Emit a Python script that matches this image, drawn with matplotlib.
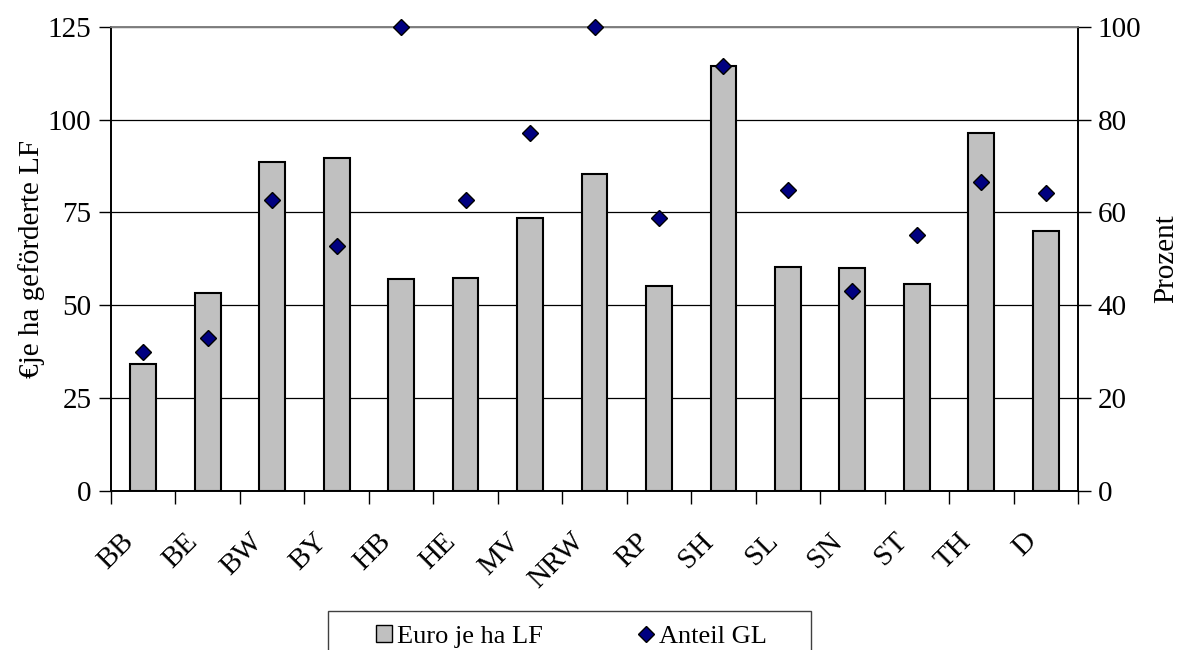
import matplotlib
matplotlib.use("Agg")
import matplotlib.pyplot as plt
from matplotlib.lines import Line2D
from matplotlib.patches import Patch, Rectangle
from matplotlib.transforms import ScaledTranslation
import numpy as np

plt.rcParams['font.family'] = ['Liberation Serif', 'DejaVu Serif']

categories = ["BB", "BE", "BW", "BY", "HB", "HE", "MV", "NRW", "RP", "SH", "SL", "SN", "ST", "TH", "D"]
euro_je_ha = [34.1, 53.3, 88.5, 89.7, 57.1, 57.4, 73.5, 85.2, 55.2, 114.5, 60.2, 59.9, 55.8, 96.4, 70.0]
anteil_gl = [30.0, 33.0, 62.6, 52.8, 100.0, 62.6, 77.0, 100.0, 58.7, 91.5, 64.8, 43.0, 55.1, 66.5, 64.1]

left_ticks = [0, 25, 50, 75, 100, 125]
right_ticks = [0, 20, 40, 60, 80, 100]

FS = 21
LFS = 19

fig = plt.figure(figsize=(11.84, 6.5), dpi=100)
ax = fig.add_axes([111/1184, 1 - 490.7/650, (1078 - 111)/1184, (490.7 - 26.7)/650])
ax2 = ax.twinx()

x = np.arange(len(categories))
ax.bar(x, euro_je_ha, width=0.40, color="#C0C0C0", edgecolor="black", linewidth=1.5, zorder=3)
ax.set_xlim(-0.5, len(categories) - 0.5)
ax.set_ylim(0, 125)
ax.set_yticks(left_ticks)
ax.yaxis.grid(True, color="black", linewidth=0.9, zorder=0)
ax.set_axisbelow(True)

ax2.plot(x, anteil_gl, linestyle="none", marker="D", markersize=8.5,
         markerfacecolor="#000080", markeredgecolor="black", markeredgewidth=1.0,
         clip_on=False, zorder=5)
ax2.set_ylim(0, 100)
ax2.set_yticks(right_ticks)

# category ticks at boundaries
ax.set_xticks(np.arange(len(categories) + 1) - 0.5, minor=False)
ax.set_xticklabels([])
ax.tick_params(axis="x", which="major", direction="out", length=9, width=1, color="black")
ax.set_xticks(x, minor=True)
ax.set_xticklabels(categories, minor=True, rotation=45, ha="right", va="center",
                   rotation_mode="anchor", fontsize=FS)
ax.tick_params(axis="x", which="minor", length=0, pad=28)
shift = ScaledTranslation(-14/100, -8/100, fig.dpi_scale_trans)
for lbl in ax.get_xticklabels(minor=True):
    lbl.set_transform(lbl.get_transform() + shift)

ax.tick_params(axis="y", direction="out", length=9, width=1, labelsize=FS, pad=5)
ax2.tick_params(axis="y", direction="out", length=9, width=1, labelsize=FS, pad=5)

for a in (ax, ax2):
    a.spines["top"].set_color("#808080")
    a.spines["top"].set_linewidth(1.2)
    a.spines["left"].set_linewidth(1.2)
    a.spines["right"].set_linewidth(1.2)
    a.spines["bottom"].set_linewidth(1.2)

ax.set_ylabel("€je ha geförderte LF", fontsize=FS, labelpad=2)
ax2.set_ylabel("Prozent", fontsize=FS, labelpad=9)

# legend frame
fig.patches.append(Rectangle((328/1184, -0.01), (811 - 328)/1184, 1 - 611/650 + 0.01,
                             transform=fig.transFigure, facecolor="white",
                             edgecolor="#404040", linewidth=1.0, zorder=0))

handles = [Patch(facecolor="#C0C0C0", edgecolor="black", linewidth=1.0),
           Line2D([], [], linestyle="none", marker="D", markersize=8,
                  markerfacecolor="#000080", markeredgecolor="black")]
leg = fig.legend(handles, ["Euro je ha LF", "Anteil GL"], ncol=2, loc="upper left",
                 bbox_to_anchor=(376/1184, 1 - 625/650), fontsize=LFS, frameon=False,
                 handlelength=0.6, handleheight=0.6,
                 handletextpad=0.2, columnspacing=3.6, borderpad=0, borderaxespad=0)

fig.savefig("out.png", dpi=100)
